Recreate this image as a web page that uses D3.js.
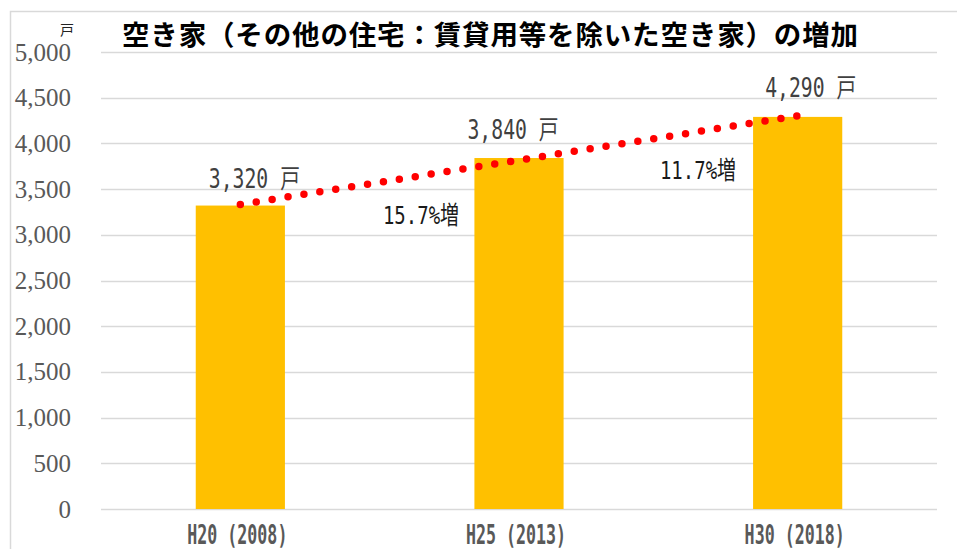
<!DOCTYPE html>
<html>
<head>
<meta charset="utf-8">
<script src="https://cdn.jsdelivr.net/npm/d3@7"></script>
<style>
  body { margin: 0; background: #fff; }
  svg { display: block; }
</style>
</head>
<body>
<svg id="chart"></svg>
<script>
let width = 957;
let height = 549;

// data
let categories = ["H20 (2008)", "H25 (2013)", "H30 (2018)"];
let values = [3320, 3840, 4290];
let growthLabels = ["15.7%増", "11.7%増"];
let trendValues = [3332, 4302];   // ends of the dotted trend line
let yTicks = [0, 500, 1000, 1500, 2000, 2500, 3000, 3500, 4000, 4500, 5000];
let titleText = "空き家（その他の住宅：賃貸用等を除いた空き家）の増加";
let unitText = "戸";

let margin = {top: 52, right: 20, bottom: 40, left: 101};
let plotRight = 937;
let plotBottom = 509;

let monoFont = "'DejaVu Sans Mono', 'Noto Sans CJK JP', monospace";

let svg = d3.select("#chart")
    .attr("width", width)
    .attr("height", height);

// outer chart border (only top and left edges are inside the window)
svg.append("rect")
    .attr("x", 10.5)
    .attr("y", 11.5)
    .attr("width", width + 10)
    .attr("height", height + 10)
    .attr("fill", "none")
    .attr("stroke", "#d9d9d9")
    .attr("stroke-width", 1.5);

let x = d3.scaleBand()
    .domain(categories)
    .range([margin.left, plotRight])
    .padding(0);

let y = d3.scaleLinear()
    .domain([0, 5000])
    .range([plotBottom, margin.top]);

let barWidth = x.bandwidth() * 0.32;

// gridlines
svg.append("g")
    .selectAll("line")
    .data(yTicks)
    .enter().append("line")
    .attr("x1", margin.left)
    .attr("x2", plotRight)
    .attr("y1", d => Math.round(y(d)) + 0.5)
    .attr("y2", d => Math.round(y(d)) + 0.5)
    .attr("stroke", "#d9d9d9")
    .attr("stroke-width", 1.5);

// y axis labels
let yAxis = d3.axisLeft(y)
    .tickValues(yTicks)
    .tickSize(0)
    .tickPadding(30)
    .tickFormat(d3.format(","));

let yG = svg.append("g")
    .attr("transform", "translate(" + margin.left + ",0)")
    .call(yAxis);
yG.select(".domain").remove();
yG.selectAll("text")
    .attr("font-family", "'Liberation Serif', 'DejaVu Serif', serif")
    .attr("font-size", 25)
    .attr("fill", "#595959");

// unit above the axis
svg.append("text")
    .attr("x", 67)
    .attr("y", 35)
    .attr("text-anchor", "middle")
    .attr("font-family", "'Noto Sans CJK JP', sans-serif")
    .attr("font-size", 14)
    .attr("fill", "#222")
    .text(unitText);

// bars
svg.append("g")
    .selectAll("rect")
    .data(values)
    .enter().append("rect")
    .attr("x", (d, i) => x(categories[i]) + x.bandwidth() / 2 - barWidth / 2)
    .attr("y", d => y(d))
    .attr("width", barWidth)
    .attr("height", d => y(0) - y(d))
    .attr("fill", "#ffc000");

// x axis labels
let xAxis = d3.axisBottom(x)
    .tickSize(0)
    .tickPadding(0);

let xG = svg.append("g")
    .attr("transform", "translate(0," + plotBottom + ")")
    .call(xAxis);
xG.select(".domain").remove();
xG.selectAll("text")
    .attr("x", 0)
    .attr("y", 0)
    .attr("dy", 0)
    .attr("font-family", monoFont)
    .attr("font-weight", "bold")
    .attr("font-size", 26)
    .attr("fill", "#595959")
    .attr("text-anchor", "middle")
    .attr("dominant-baseline", "central")
    .attr("transform", "translate(-3,26) scale(0.64,1)");

// dotted trend line
let trendLine = d3.line()
    .x(d => d[0])
    .y(d => y(d[1]));

svg.append("path")
    .datum([
        [x(categories[0]) + x.bandwidth() / 2, trendValues[0]],
        [x(categories[categories.length - 1]) + x.bandwidth() / 2, trendValues[1]]
    ])
    .attr("d", trendLine)
    .attr("fill", "none")
    .attr("stroke", "#ff0000")
    .attr("stroke-width", 7.5)
    .attr("stroke-linecap", "round")
    .attr("stroke-dasharray", "0,16.1");

// value labels
let valueFormat = d => d3.format(",")(d) + " " + unitText;
let valueOffsets = [[14, -27], [-6, -28], [13, -29]];

svg.append("g")
    .selectAll("text")
    .data(values)
    .enter().append("text")
    .attr("transform", (d, i) => "translate(" + (x(categories[i]) + x.bandwidth() / 2 + valueOffsets[i][0]) + "," + (y(d) + valueOffsets[i][1]) + ") scale(0.76,1)")
    .attr("text-anchor", "middle")
    .attr("dominant-baseline", "central")
    .attr("font-family", monoFont)
    .attr("font-size", 26)
    .attr("fill", "#404040")
    .text(valueFormat);

// growth labels between bars
let growthPos = [[421, 3220], [698, 3705]];

svg.append("g")
    .selectAll("text")
    .data(growthLabels)
    .enter().append("text")
    .attr("transform", (d, i) => "translate(" + growthPos[i][0] + "," + y(growthPos[i][1]) + ") scale(0.76,1)")
    .attr("text-anchor", "middle")
    .attr("dominant-baseline", "central")
    .attr("font-family", monoFont)
    .attr("font-size", 25)
    .attr("fill", "#1a1a1a")
    .text(d => d);

// title
svg.append("text")
    .attr("x", 122)
    .attr("y", 33)
    .attr("dominant-baseline", "central")
    .attr("font-family", "'Noto Sans CJK JP', sans-serif")
    .attr("font-weight", "bold")
    .attr("font-size", 27.5)
    .attr("fill", "#000")
    .attr("textLength", 736)
    .attr("lengthAdjust", "spacing")
    .text(titleText);
</script>
</body>
</html>
